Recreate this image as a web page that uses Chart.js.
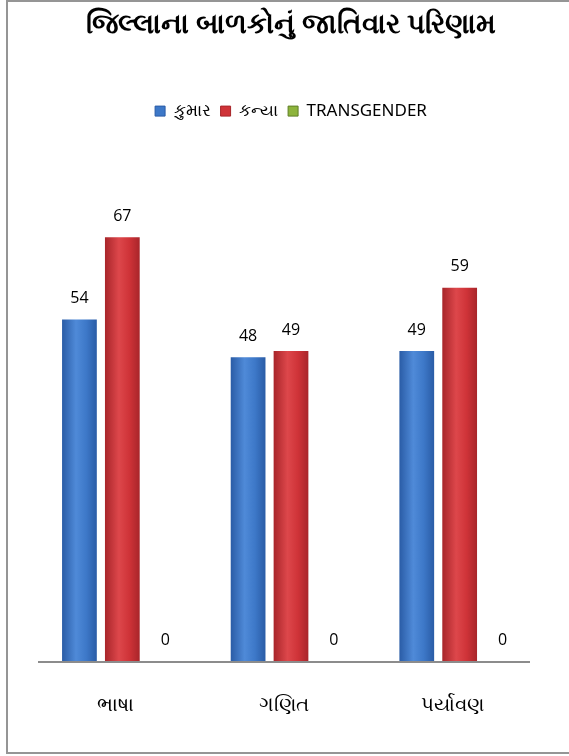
<!DOCTYPE html>
<html>
<head>
<meta charset="utf-8">
<script src="https://cdn.jsdelivr.net/npm/chart.js@4"></script>
<style>
  html, body { margin: 0; padding: 0; background: #fff; overflow: hidden; }
  .frame { position: absolute; left: 6px; top: 0px; width: 580px; height: 754px; border: 2px solid #959595; box-sizing: border-box; }
  canvas { display: block; position: absolute; left: 0; top: 3px; }
</style>
</head>
<body>
<div class="frame"><canvas class="chart" width="550" height="746"></canvas></div>
<script>
const categories = ['ભાષા', 'ગણિત', 'પર્યાવણ'];
const seriesNames = ['કુમાર', 'કન્યા', 'TRANSGENDER'];
const boys = [54, 48, 49];
const girls = [67, 49, 59];
const transgender = [0, 0, 0];

const baseColors = ['#3d78c8', '#cf3338', '#8db43c'];
const darkColors = ['#2a5ca6', '#a8252a', '#5f7f26'];
const lightColors = ['#4f8ad8', '#dd474b', '#a3c95a'];

// cylinder-ish look: horizontal gradient across each bar
const barShade = {
  id: 'barShade',
  beforeDatasetsDraw(chart) {
    const c = chart.ctx;
    chart.data.datasets.forEach((ds, di) => {
      chart.getDatasetMeta(di).data.forEach((bar) => {
        const x0 = bar.x - bar.width / 2, x1 = bar.x + bar.width / 2;
        const g = c.createLinearGradient(x0, 0, x1, 0);
        g.addColorStop(0, darkColors[di]);
        g.addColorStop(0.4, lightColors[di]);
        g.addColorStop(0.7, baseColors[di]);
        g.addColorStop(1, darkColors[di]);
        // options objects are shared between bars, so give each its own copy
        bar.options = Object.assign({}, bar.options, { backgroundColor: g });
      });
    });
  }
};

// axis line stops a bit short of the last category, like the original
const baseLine = {
  id: 'baseLine',
  afterDatasetsDraw(chart) {
    const c = chart.ctx, a = chart.chartArea;
    c.save();
    c.strokeStyle = '#8c8c8c';
    c.lineWidth = 2;
    c.beginPath();
    c.moveTo(a.left, a.bottom + 1);
    c.lineTo(a.right - 14, a.bottom + 1);
    c.stroke();
    c.restore();
  }
};

const valueLabels = {
  id: 'valueLabels',
  afterDatasetsDraw(chart) {
    const c = chart.ctx;
    c.save();
    c.font = '16px "Open Sans", "Noto Sans", sans-serif';
    c.fillStyle = '#000';
    c.textAlign = 'center';
    c.textBaseline = 'bottom';
    chart.data.datasets.forEach((ds, di) => {
      chart.getDatasetMeta(di).data.forEach((bar, j) => {
        c.fillText(ds.data[j], bar.x, bar.y - 13);
      });
    });
    c.restore();
  }
};

const data = {
  labels: categories,
  datasets: [
    { label: seriesNames[0], data: boys, backgroundColor: baseColors[0] },
    { label: seriesNames[1], data: girls, backgroundColor: baseColors[1] },
    { label: seriesNames[2], data: transgender, backgroundColor: baseColors[2] }
  ]
};

new Chart(document.querySelector('.chart'), {
  type: 'bar',
  data: data,
  plugins: [barShade, baseLine, valueLabels],
  options: {
    responsive: false,
    animation: false,
    layout: { padding: { left: 30, right: 14, top: 0, bottom: 2 } },
    barPercentage: 0.81,
    categoryPercentage: 0.763,
    plugins: {
      title: {
        display: true,
        text: 'જિલ્લાના બાળકોનું જાતિવાર પરિણામ',
        color: '#000',
        font: { size: 28, weight: 'bold', family: '"Noto Sans", sans-serif' },
        padding: { top: 3, bottom: 51 }
      },
      legend: {
        labels: {
          boxWidth: 10, boxHeight: 10,
          padding: 10,
          color: '#000',
          font: { size: 17, family: '"Noto Sans", sans-serif' },
          generateLabels: () => seriesNames.map((n, i) => ({
            text: n, fillStyle: baseColors[i], strokeStyle: darkColors[i], lineWidth: 1, datasetIndex: i
          }))
        }
      },
      tooltip: { enabled: false }
    },
    scales: {
      x: {
        grid: { display: false, drawTicks: false },
        border: { display: false },
        ticks: { color: '#000', padding: 32, labelOffset: -7, font: { size: 20, family: '"Noto Sans", sans-serif' } }
      },
      y: {
        display: false,
        min: 0,
        max: 84
      }
    }
  }
});
</script>
</body>
</html>
